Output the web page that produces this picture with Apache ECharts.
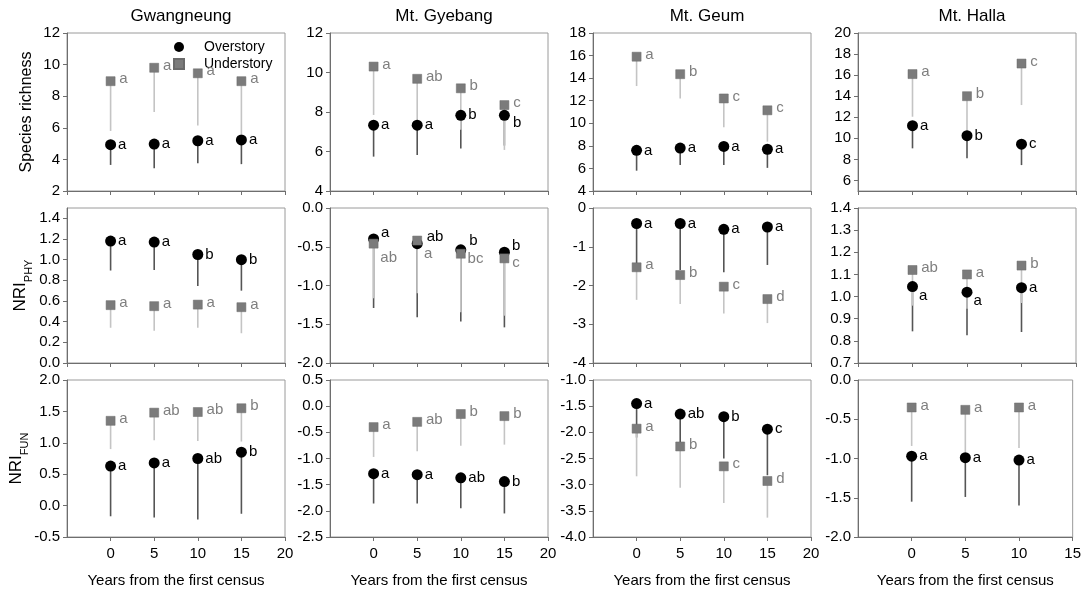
<!DOCTYPE html>
<html><head><meta charset="utf-8">
<script src="https://cdn.jsdelivr.net/npm/echarts@6/dist/echarts.min.js"></script>
<style>html,body{margin:0;padding:0;background:#fff}#c{width:1084px;height:592px}</style>
</head><body><div id="c"></div>
<script>
// ---------- DATA ----------
const sites = ['Gwangneung', 'Mt. Gyebang', 'Mt. Geum', 'Mt. Halla'];
const years = [0, 5, 10, 15];
const yearsHalla = [0, 5, 10];
const xMax = [20, 20, 20, 15];
const xTitle = 'Years from the first census';
const yTitles = ['Species richness', '{m|NRI}{s|PHY}', '{m|NRI}{s|FUN}'];

// Species richness (mean, lower end of bar, significance letters) per site
const richOver = [[4.93, 4.97, 5.18, 5.23], [7.33, 7.33, 7.83, 7.83], [7.6, 7.8, 7.95, 7.7], [11.2, 10.25, 9.45]];
const richOverLow = [[3.65, 3.44, 3.75, 3.7], [5.74, 5.82, 6.15, 6.3], [5.8, 6.3, 6.3, 6.05], [9.05, 8.1, 7.46]];
const richOverSig = [['a', 'a', 'a', 'a'], ['a', 'a', 'b', 'b'], ['a', 'a', 'a', 'a'], ['a', 'b', 'c']];
const richUnder = [[8.95, 9.8, 9.45, 8.95], [10.3, 9.68, 9.2, 8.35], [15.9, 14.35, 12.2, 11.15], [16.1, 14.0, 17.1]];
const richUnderLow = [[5.8, 7.0, 6.14, 5.6], [7.85, 7.6, 7.1, 6.08], [13.3, 12.2, 9.65, 8.37], [12.05, 10.6, 13.16]];
const richUnderSig = [['a', 'a', 'a', 'a'], ['a', 'ab', 'b', 'c'], ['a', 'b', 'c', 'c'], ['a', 'b', 'c']];

// NRI PHY
const phyOver = [[1.18, 1.17, 1.05, 1.0], [-0.4, -0.46, -0.54, -0.57], [-0.4, -0.4, -0.55, -0.49], [1.045, 1.02, 1.04]];
const phyOverLow = [[0.895, 0.9, 0.744, 0.70], [-1.29, -1.41, -1.465, -1.54], [-1.45, -1.6, -1.66, -1.47], [0.843, 0.825, 0.84]];
const phyOverSig = [['a', 'a', 'b', 'b'], ['a', 'ab', 'b', 'b'], ['a', 'a', 'a', 'a'], ['a', 'a', 'a']];
const phyUnder = [[0.56, 0.55, 0.565, 0.54], [-0.46, -0.42, -0.59, -0.65], [-1.53, -1.73, -2.03, -2.35], [1.12, 1.10, 1.14]];
const phyUnderLow = [[0.341, 0.313, 0.341, 0.288], [-1.165, -1.10, -1.345, -1.39], [-2.37, -2.48, -2.72, -2.97], [0.959, 0.945, 0.971]];
const phyUnderSig = [['a', 'a', 'a', 'a'], ['ab', 'a', 'bc', 'c'], ['a', 'b', 'c', 'd'], ['ab', 'a', 'b']];

// NRI FUN
const funOver = [[0.63, 0.68, 0.75, 0.85], [-1.29, -1.31, -1.37, -1.44], [-1.45, -1.65, -1.70, -1.94], [-0.97, -0.99, -1.02]];
const funOverLow = [[-0.17, -0.19, -0.22, -0.13], [-1.86, -1.86, -1.95, -2.05], [-2.1, -2.3, -2.5, -2.82], [-1.55, -1.49, -1.6]];
const funOverSig = [['a', 'a', 'ab', 'b'], ['a', 'a', 'ab', 'b'], ['a', 'ab', 'b', 'c'], ['a', 'a', 'a']];
const funUnder = [[1.35, 1.48, 1.49, 1.55], [-0.40, -0.30, -0.15, -0.19], [-1.93, -2.27, -2.65, -2.93], [-0.35, -0.38, -0.35]];
const funUnderLow = [[0.90, 1.04, 1.03, 1.02], [-0.97, -0.86, -0.755, -0.735], [-2.84, -3.06, -3.35, -3.63], [-0.84, -0.92, -0.865]];
const funUnderSig = [['a', 'ab', 'ab', 'b'], ['a', 'ab', 'b', 'b'], ['a', 'b', 'c', 'd'], ['a', 'a', 'a']];

// y axis ranges per row / column
const yMin = [[2, 4, 4, 5], [0, -2, -4, 0.7], [-0.5, -2.5, -4, -2]];
const yMax = [[12, 12, 18, 20], [1.5, 0, 0, 1.4], [2, 0.5, -1, 0]];
const yStep = [[2, 2, 2, null], [0.2, 0.5, 1, 0.1], [0.5, 0.5, 0.5, 0.5]];
const yDecimals = [[0, 0, 0, 0], [1, 1, 0, 1], [1, 1, 1, 1]];

// ---------- LAYOUT / STYLE ----------
const colLeft = [67, 330, 593, 858];
const plotW = 218;
const rowTop = [33, 208, 380];
const rowH = [158, 155, 157];
const FONT = '"Liberation Sans", Arial, sans-serif';
const OVER_COLOR = '#000000';
const UNDER_COLOR = '#7b7b7b';
const OVER_BAR = '#555555';
const UNDER_BAR = '#c4c4c4';
const UNDER_TEXT = '#7f7f7f';
const AXIS_COLOR = '#6e6e6e';

const rows = [
  [richOver, richOverLow, richOverSig, richUnder, richUnderLow, richUnderSig],
  [phyOver, phyOverLow, phyOverSig, phyUnder, phyUnderLow, phyUnderSig],
  [funOver, funOverLow, funOverSig, funUnder, funUnderLow, funUnderSig]
];

// label offsets (styling only)
function labelOffset(r, c, kind, i) {
  if (r === 1 && c === 1) {
    if (kind === 'over') return [[0, -6], [2, -7], [1, -9], [0, -6]][i];
    return [[-2, 14], [-2, 13], [-2, 5], [-1, 4]][i];
  }
  if (r === 1 && c === 3 && kind === 'over') return [[-1, 9], [-1, 9], [0, 0]][i];
  if (r === 0 && c === 1 && kind === 'over' && i === 3) return [1, 8];
  return [0, kind === 'under' ? -2 : 0];
}

function barRender(color) {
  return function (params, api) {
    const x = api.value(0);
    const p0 = api.coord([x, api.value(1)]);
    const p1 = api.coord([x, api.value(2)]);
    return {
      type: 'line',
      shape: { x1: p0[0], y1: p0[1], x2: p1[0], y2: p1[1] },
      style: { stroke: color, lineWidth: 1.6 }
    };
  };
}

const grids = [], xAxes = [], yAxes = [], series = [], titles = [];
let idx = 0;
for (let r = 0; r < 3; r++) {
  for (let c = 0; c < 4; c++) {
    const xs = c === 3 ? yearsHalla : years;
    const [ov, ovLow, ovSig, un, unLow, unSig] = rows[r];
    grids.push({
      left: colLeft[c], top: rowTop[r], width: plotW, height: rowH[r],
      show: true, borderColor: '#9a9a9a', borderWidth: 1, backgroundColor: 'transparent'
    });
    xAxes.push({
      gridIndex: idx, type: 'value', min: -5, max: xMax[c], interval: 5,
      splitLine: { show: false },
      axisLine: { show: true, onZero: false, lineStyle: { color: AXIS_COLOR, width: 1 } },
      axisTick: { show: true, inside: false, length: 4, lineStyle: { color: AXIS_COLOR } },
      axisLabel: {
        show: r === 2, showMinLabel: false, margin: 9,
        fontSize: 15, fontFamily: FONT, color: '#000'
      },
      name: r === 2 ? xTitle : '', nameLocation: 'middle', nameGap: 36,
      nameTextStyle: { fontSize: 15, fontFamily: FONT, color: '#000' }
    });
    const dec = yDecimals[r][c];
    const yAx = {
      gridIndex: idx, type: 'value', min: yMin[r][c], max: yMax[r][c],
      splitLine: { show: false },
      axisLine: { show: true, onZero: false, lineStyle: { color: AXIS_COLOR, width: 1 } },
      axisTick: { show: true, inside: false, length: 4, lineStyle: { color: AXIS_COLOR } },
      axisLabel: {
        margin: 7, fontSize: 15, fontFamily: FONT, color: '#000',
        formatter: v => (Math.abs(v) < 1e-9 ? 0 : v).toFixed(dec)
      },
      name: c === 0 ? yTitles[r] : '', nameLocation: 'middle', nameRotate: 90,
      nameGap: r === 0 ? 32 : 33,
      nameTextStyle: {
        fontSize: 16, fontFamily: FONT, color: '#000',
        rich: {
          m: { fontSize: 17, fontFamily: FONT, color: '#000', lineHeight: 28, verticalAlign: 'middle' },
          s: { fontSize: 11, fontFamily: FONT, color: '#000', lineHeight: 12, verticalAlign: 'bottom' }
        }
      }
    };
    if (yStep[r][c] != null) {
      yAx.interval = yStep[r][c];
    } else {
      yAx.splitNumber = 7;
    }
    yAx.axisLabel.showMinLabel = (r === 0 && c === 3) ? false : true;
    yAx.axisLabel.showMaxLabel = (r === 1 && c === 0) ? false : true;
    yAxes.push(yAx);

    const ovData = xs.map((x, i) => [x, ov[c][i], ovLow[c][i]]);
    const unData = xs.map((x, i) => [x, un[c][i], unLow[c][i]]);
    series.push({
      type: 'custom', name: 'Overstory bar', xAxisIndex: idx, yAxisIndex: idx, z: 1,
      renderItem: barRender(OVER_BAR), encode: { x: 0, y: [1, 2] }, data: ovData, silent: true
    });
    series.push({
      type: 'custom', name: 'Understory bar', xAxisIndex: idx, yAxisIndex: idx, z: 2,
      renderItem: barRender(UNDER_BAR), encode: { x: 0, y: [1, 2] }, data: unData, silent: true
    });
    series.push({
      type: 'scatter', name: 'Overstory', xAxisIndex: idx, yAxisIndex: idx, z: 3,
      symbol: 'circle', symbolSize: 11,
      itemStyle: { color: OVER_COLOR, opacity: 1 },
      data: xs.map((x, i) => ({
        value: [x, ov[c][i]], name: ovSig[c][i],
        label: { offset: labelOffset(r, c, 'over', i) }
      })),
      label: {
        show: true, position: 'right', distance: 2, formatter: '{b}',
        fontSize: 15, fontFamily: FONT, color: '#000'
      }
    });
    series.push({
      type: 'scatter', name: 'Understory', xAxisIndex: idx, yAxisIndex: idx, z: 4,
      symbol: 'rect', symbolSize: 9,
      itemStyle: { color: UNDER_COLOR, borderColor: '#6a6a6a', borderWidth: 0.5, opacity: 1 },
      data: xs.map((x, i) => ({
        value: [x, un[c][i]], name: unSig[c][i],
        label: { offset: labelOffset(r, c, 'under', i) }
      })),
      label: {
        show: true, position: 'right', distance: 4, formatter: '{b}',
        fontSize: 15, fontFamily: FONT, color: UNDER_TEXT
      }
    });
    idx++;
  }
}
for (let c = 0; c < 4; c++) {
  titles.push({
    text: sites[c], left: colLeft[c] + plotW / 2, top: 3, textAlign: 'center',
    textStyle: { fontSize: 17, fontWeight: 'normal', fontFamily: FONT, color: '#000' }
  });
}

const chart = echarts.init(document.getElementById('c'));
chart.setOption({
  animation: false,
  backgroundColor: '#fff',
  title: titles,
  legend: {
    orient: 'vertical', left: 168, top: 35, itemWidth: 40, itemHeight: 10, itemGap: 3,
    selectedMode: false,
    textStyle: { fontSize: 14, fontFamily: FONT, color: '#000' },
    data: [
      { name: 'Overstory', icon: 'circle' },
      { name: 'Understory', icon: 'path://M0,0L10,0L10,10L0,10Z' }
    ]
  },
  grid: grids, xAxis: xAxes, yAxis: yAxes, series: series
});
</script>
</body></html>
